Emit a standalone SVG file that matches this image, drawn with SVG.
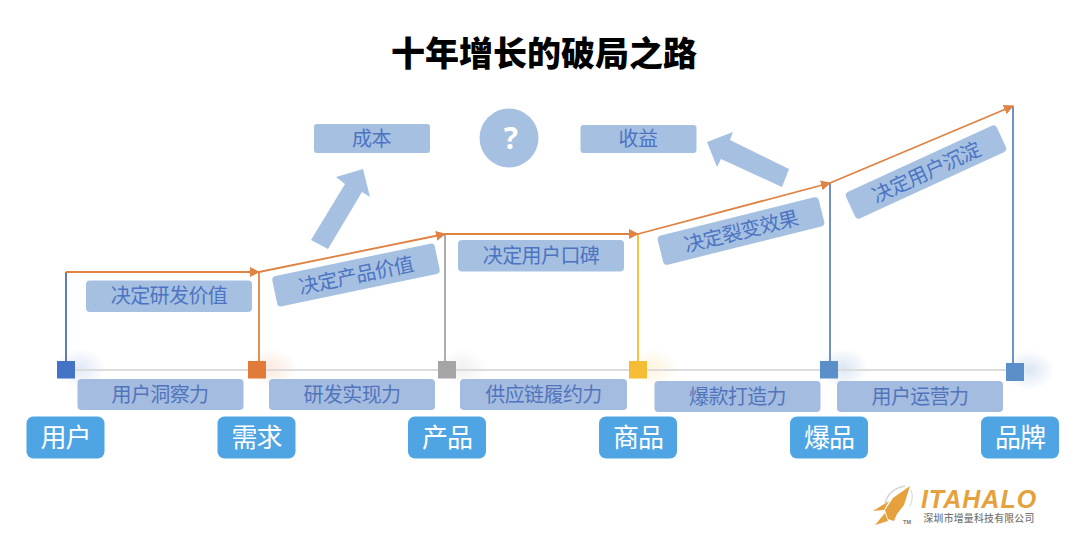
<svg xmlns="http://www.w3.org/2000/svg" width="1080" height="536" viewBox="0 0 1080 536">
<style>
text{font-family:"Noto Sans CJK SC","Noto Sans",sans-serif;text-anchor:middle}
.box{fill:#a5c0e1}
.lab{fill:#4d74c2;font-size:20px;letter-spacing:-.6px}
.bot{fill:#5274bd;font-size:20px;letter-spacing:-.6px}
.botbox{fill:#a3bcdf}
.nb{fill:#4fa5e3}
.nt{fill:#fff;font-size:26px;letter-spacing:-1px}
.or{stroke:#df8243;stroke-width:1.800;fill:none;marker-end:url(#a)}
.v{stroke-width:1.800;fill:none}
.big{fill:#a5c0e1}
</style>
<defs>
<marker id="a" markerUnits="userSpaceOnUse" markerWidth="11" markerHeight="10" refX="9" refY="5" orient="auto"><path d="M0 0L10 5L0 10z" fill="#df8243"/></marker>
<radialGradient id="g1"><stop offset="0" stop-color="#4472c4" stop-opacity=".16"/><stop offset="1" stop-color="#4472c4" stop-opacity="0"/></radialGradient>
<radialGradient id="g2"><stop offset="0" stop-color="#e07b39" stop-opacity=".16"/><stop offset="1" stop-color="#e07b39" stop-opacity="0"/></radialGradient>
<radialGradient id="g3"><stop offset="0" stop-color="#a5a5a5" stop-opacity=".16"/><stop offset="1" stop-color="#a5a5a5" stop-opacity="0"/></radialGradient>
<radialGradient id="g4"><stop offset="0" stop-color="#f5bd35" stop-opacity=".16"/><stop offset="1" stop-color="#f5bd35" stop-opacity="0"/></radialGradient>
<radialGradient id="g5"><stop offset="0" stop-color="#5b8fc9" stop-opacity=".22"/><stop offset="1" stop-color="#5b8fc9" stop-opacity="0"/></radialGradient>
</defs>
<rect width="1080" height="536" fill="#fff"/>
<text x="544" y="66" font-size="34" font-weight="900" fill="#000">十年增长的破局之路</text>

<g id="glows">
<ellipse cx="80" cy="368" rx="26" ry="20" fill="url(#g1)"/>
<ellipse cx="271" cy="368" rx="26" ry="20" fill="url(#g2)"/>
<ellipse cx="462" cy="368" rx="26" ry="20" fill="url(#g3)"/>
<ellipse cx="653" cy="368" rx="26" ry="20" fill="url(#g4)"/>
<ellipse cx="843" cy="368" rx="26" ry="20" fill="url(#g5)"/>
<ellipse cx="1029" cy="370" rx="26" ry="20" fill="url(#g5)"/>
</g>

<g id="connectors">
<line x1="66" y1="370" x2="1015" y2="370" stroke="#dcdcdc" stroke-width="1.800"/>
<line class="v" x1="66" y1="272" x2="66" y2="361" stroke="#4f6fa8"/>
<line class="v" x1="259" y1="272" x2="259" y2="361" stroke="#df8243"/>
<line class="v" x1="445" y1="234" x2="445" y2="361" stroke="#a5a5a5"/>
<line class="v" x1="638" y1="234" x2="638" y2="361" stroke="#f5bd35"/>
<line class="v" x1="830" y1="183" x2="830" y2="361" stroke="#5f86bd"/>
<line class="v" x1="1013" y1="106" x2="1013" y2="363" stroke="#5f86c8"/>
<line class="or" x1="66" y1="272" x2="259" y2="272"/>
<line class="or" x1="259" y1="272" x2="445" y2="234"/>
<line class="or" x1="445" y1="234" x2="638" y2="234"/>
<line class="or" x1="638" y1="234" x2="830" y2="183"/>
<line class="or" x1="830" y1="183" x2="1013" y2="106"/>
<polygon class="big" points="311,240 328,249 362,192 370,197 363,169 336,177 345,184"/>
<polygon class="big" points="789,169 782,187 721,159 717,167 707,142 733,132 730,140"/>
</g>

<g id="marker-user"><rect x="57" y="361" width="18" height="17.500" fill="#4472c4"/></g>
<g id="marker-need"><rect x="248" y="361" width="18" height="17.500" fill="#e07b39"/></g>
<g id="marker-product"><rect x="438" y="361" width="18" height="17.500" fill="#a5a5a5"/></g>
<g id="marker-goods"><rect x="629" y="361" width="18" height="17.500" fill="#f5bd35"/></g>
<g id="marker-hit"><rect x="820" y="361" width="18" height="17.500" fill="#5b8fc9"/></g>
<g id="marker-brand"><rect x="1006" y="363" width="18" height="18" fill="#5b8fc9"/></g>

<g id="cost"><rect class="box" x="314" y="124" width="116" height="29" rx="3"/><text class="lab" x="371.500" y="145.500">成本</text></g>
<g id="question"><circle cx="509" cy="138" r="29.500" fill="#a5c0e1"/><text x="511" y="149" font-size="30" font-weight="700" fill="#fff" style="font-family:'Open Sans',sans-serif">?</text></g>
<g id="income"><rect class="box" x="580.500" y="125" width="116" height="28" rx="3"/><text class="lab" x="638" y="146">收益</text></g>

<g id="d1"><rect class="box" x="86" y="280.500" width="166" height="31.500" rx="4"/><text class="lab" x="169" y="302.500">决定研发价值</text></g>
<g id="d2" transform="rotate(-11.800 356 275)"><rect class="box" x="273" y="259.500" width="166" height="31" rx="4"/><text class="lab" x="356" y="282.500">决定产品价值</text></g>
<g id="d3"><rect class="box" x="458" y="240" width="166" height="31.500" rx="4"/><text class="lab" x="541" y="262.500">决定用户口碑</text></g>
<g id="d4" transform="rotate(-14 741 231)"><rect class="box" x="658" y="216" width="166" height="30" rx="4"/><text class="lab" x="741" y="238.500">决定裂变效果</text></g>
<g id="d5" transform="rotate(-24.700 926 172)"><rect class="box" x="843" y="157.500" width="166" height="29" rx="4"/><text class="lab" x="926" y="179.500">决定用户沉淀</text></g>

<g id="s1"><rect class="botbox" x="77.500" y="379" width="166" height="31" rx="4"/><text class="bot" x="160" y="401.500">用户洞察力</text></g>
<g id="s2"><rect class="botbox" x="269" y="379" width="166" height="31" rx="4"/><text class="bot" x="352" y="401.500">研发实现力</text></g>
<g id="s3"><rect class="botbox" x="460" y="379" width="167" height="31" rx="4"/><text class="bot" x="543.500" y="401.500">供应链履约力</text></g>
<g id="s4"><rect class="botbox" x="654.500" y="381" width="166" height="31" rx="4"/><text class="bot" x="737.500" y="403.500">爆款打造力</text></g>
<g id="s5"><rect class="botbox" x="837" y="381" width="166" height="31" rx="4"/><text class="bot" x="920" y="403.500">用户运营力</text></g>

<g id="n1"><rect class="nb" x="26.500" y="416.500" width="78" height="42" rx="7"/><text class="nt" x="65.500" y="446.500">用户</text></g>
<g id="n2"><rect class="nb" x="217.500" y="416.500" width="78" height="42" rx="7"/><text class="nt" x="256.500" y="446.500">需求</text></g>
<g id="n3"><rect class="nb" x="408" y="416.500" width="78" height="42" rx="7"/><text class="nt" x="447" y="446.500">产品</text></g>
<g id="n4"><rect class="nb" x="599" y="416.500" width="78" height="42" rx="7"/><text class="nt" x="638" y="446.500">商品</text></g>
<g id="n5"><rect class="nb" x="790" y="416.500" width="78" height="42" rx="7"/><text class="nt" x="829" y="446.500">爆品</text></g>
<g id="n6"><rect class="nb" x="981" y="416.500" width="78" height="42" rx="7"/><text class="nt" x="1020" y="446.500">品牌</text></g>

<g id="logo">
<path d="M885 503Q889 489 905 486" fill="none" stroke="#d5d5d5" stroke-width="1.500"/>
<path d="M911 490Q914 498 910 506" fill="none" stroke="#d5d5d5" stroke-width="1"/>
<polygon points="910,486 904,505 897,514 894,521 888,519 885,510 893,498" fill="#e5a13d"/>
<polygon points="889,501 873,511 884,510" fill="#e5a13d"/>
<polygon points="885,513 875,525 888,521" fill="#e5a13d"/>
<text x="907" y="524" font-size="5.500" font-weight="700" fill="#777" style="font-family:'Liberation Sans',sans-serif">TM</text>
<text x="979" y="507.500" font-size="25" font-weight="700" font-style="italic" fill="#e5a13d" letter-spacing="1" style="font-family:'Liberation Sans',sans-serif">ITAHALO</text>
<text x="979" y="522" font-size="9.800" fill="#777" font-weight="500" letter-spacing=".3">深圳市增量科技有限公司</text>
</g>
</svg>
